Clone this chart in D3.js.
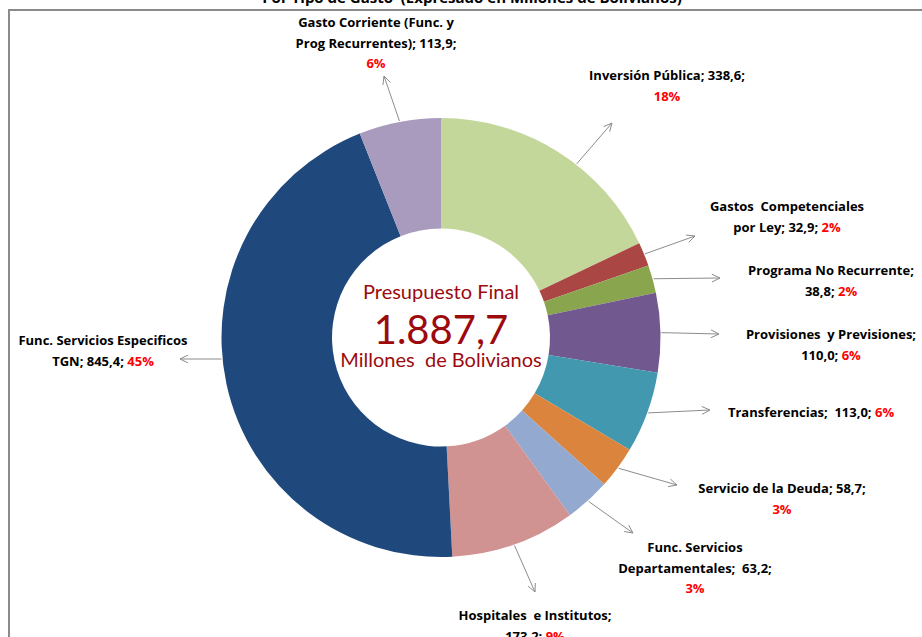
<!doctype html>
<html lang="es">
<head>
<meta charset="UTF-8">
<title>Presupuesto por Tipo de Gasto</title>
<script src="https://cdn.jsdelivr.net/npm/d3@7"></script>
<style>
  html, body { margin: 0; padding: 0; background: #fff; }
  svg { display: block; font-family: Lato, "Noto Sans", sans-serif; }
  svg text { white-space: pre; }
</style>
</head>
<body>
<div id="chart"></div>
<script>
// data
const categories = [
  "Inversión Pública",
  "Gastos Competenciales por Ley",
  "Programa No Recurrente",
  "Provisiones y Previsiones",
  "Transferencias",
  "Servicio de la Deuda",
  "Func. Servicios Departamentales",
  "Hospitales e Institutos",
  "Func. Servicios Especificos TGN",
  "Gasto Corriente (Func. y Prog Recurrentes)"
];
const values = [338.6, 32.9, 38.8, 110.0, 113.0, 58.7, 63.2, 173.2, 845.4, 113.9];
const colors = ["#C4D79B", "#AA4643", "#89A54E", "#71588F", "#4198AF",
                "#DB843D", "#93A9CF", "#D19392", "#1F497D", "#A99BBD"];
// label text, {v} = value, {p} = percent
const labelLines = [
  ["Inversión Pública; {v};", "{p}"],
  ["Gastos  Competenciales", "por Ley; {v}; {p}"],
  ["Programa No Recurrente;", "{v}; {p}"],
  ["Provisiones  y Previsiones;", "{v}; {p}"],
  ["Transferencias;  {v}; {p}"],
  ["Servicio de la Deuda; {v};", "{p}"],
  ["Func. Servicios", "Departamentales;  {v};", "{p}"],
  ["Hospitales  e Institutos;", "{v}; {p}"],
  ["Func. Servicios Especificos", "TGN; {v}; {p}"],
  ["Gasto Corriente (Func. y", "Prog Recurrentes); {v};", "{p}"]
];
const title = "Por Tipo de Gasto  (Expresado en Millones de Bolivianos)";
const centerText = ["Presupuesto Final", "Millones  de Bolivianos"];

// layout of labels: label centre x, first baseline y, arrow tip, optional start angle (deg)
const labelLayout = [
  { x: 667, y: 80,  tip: [612, 123], a: 38 },
  { x: 787, y: 211, tip: [695, 236] },
  { x: 831, y: 275, tip: [720, 278] },
  { x: 831, y: 339, tip: [719, 334] },
  { x: 811, y: 417, tip: [710, 410] },
  { x: 782, y: 493, tip: [677, 485] },
  { x: 695, y: 552, tip: [633, 533] },
  { x: 535, y: 620, tip: [535, 592] },
  { x: 103, y: 345, tip: [180, 359], a: 264.4 },
  { x: 376, y: 27,  tip: [384, 76] }
];

const width = 922, height = 637;
const cx = 441, cy = 337.5;
const outerR = 219.5, innerR = 109;

const locale = d3.formatLocale({ decimal: ",", thousands: ".", grouping: [3], currency: ["", ""] });
const fmt = locale.format(",.1f");
const total = d3.sum(values);
const pct = v => Math.round(v / total * 100) + "%";

const svg = d3.select("#chart").append("svg")
  .attr("width", width)
  .attr("height", height);

svg.append("rect").attr("width", width).attr("height", height).attr("fill", "#fff");

// frame of the chart area
svg.append("rect")
  .attr("x", 9).attr("y", 10)
  .attr("width", width + 20).attr("height", height + 20)
  .attr("fill", "none")
  .attr("stroke", "#8a8a8a")
  .attr("stroke-width", 2);

// title, cut at the top in the original
svg.append("text")
  .attr("x", 472).attr("y", 3)
  .attr("text-anchor", "middle")
  .attr("font-family", "'Open Sans', sans-serif")
  .attr("font-weight", "bold")
  .attr("font-size", 15)
  .attr("fill", "#000")
  .text(title);

const pie = d3.pie().sort(null).value(d => d);
const arcs = pie(values);
const arc = d3.arc().innerRadius(innerR).outerRadius(outerR);

const g = svg.append("g").attr("transform", `translate(${cx},${cy})`);

g.selectAll("path.slice")
  .data(arcs)
  .enter()
  .append("path")
  .attr("class", "slice")
  .attr("d", arc)
  .attr("fill", (_, i) => colors[i]);

// leader lines with open arrow heads
const lines = svg.append("g").attr("stroke", "#8c8c8c").attr("stroke-width", 1).attr("fill", "none");
arcs.forEach((d, i) => {
  const L = labelLayout[i];
  const ang = L.a !== undefined ? L.a * Math.PI / 180 : (d.startAngle + d.endAngle) / 2;
  const r = outerR + 1;
  const sx = cx + r * Math.sin(ang), sy = cy - r * Math.cos(ang);
  const [tx, ty] = L.tip;
  lines.append("line").attr("x1", sx).attr("y1", sy).attr("x2", tx).attr("y2", ty);
  const dir = Math.atan2(ty - sy, tx - sx);
  const hl = 9, spread = 0.45;
  const p1 = [tx - hl * Math.cos(dir - spread), ty - hl * Math.sin(dir - spread)];
  const p2 = [tx - hl * Math.cos(dir + spread), ty - hl * Math.sin(dir + spread)];
  lines.append("path").attr("d", `M${p1[0]},${p1[1]}L${tx},${ty}L${p2[0]},${p2[1]}`);
});

// data labels
const labels = svg.append("g")
  .attr("font-family", "'Open Sans', sans-serif")
  .attr("font-size", 13)
  .attr("font-weight", "bold")
  .attr("text-anchor", "middle");
values.forEach((v, i) => {
  const L = labelLayout[i];
  labelLines[i].forEach((line, j) => {
    const t = labels.append("text").attr("x", L.x).attr("y", L.y + j * 20.5);
    const parts = line.replace("{v}", fmt(v)).split("{p}");
    t.append("tspan").attr("fill", "#000").text(parts[0]);
    if (parts.length > 1) {
      t.append("tspan").attr("fill", "#FF0000").text(pct(v));
    }
  });
});

// centre text
const ct = svg.append("g").attr("text-anchor", "middle").attr("fill", "#9C0A0E");
ct.append("text").attr("x", cx).attr("y", 299).attr("font-size", 20).text(centerText[0]);
ct.append("text").attr("x", cx).attr("y", 344).attr("font-size", 40).text(fmt(total));
ct.append("text").attr("x", cx).attr("y", 367).attr("font-size", 20).text(centerText[1]);
</script>
</body>
</html>
